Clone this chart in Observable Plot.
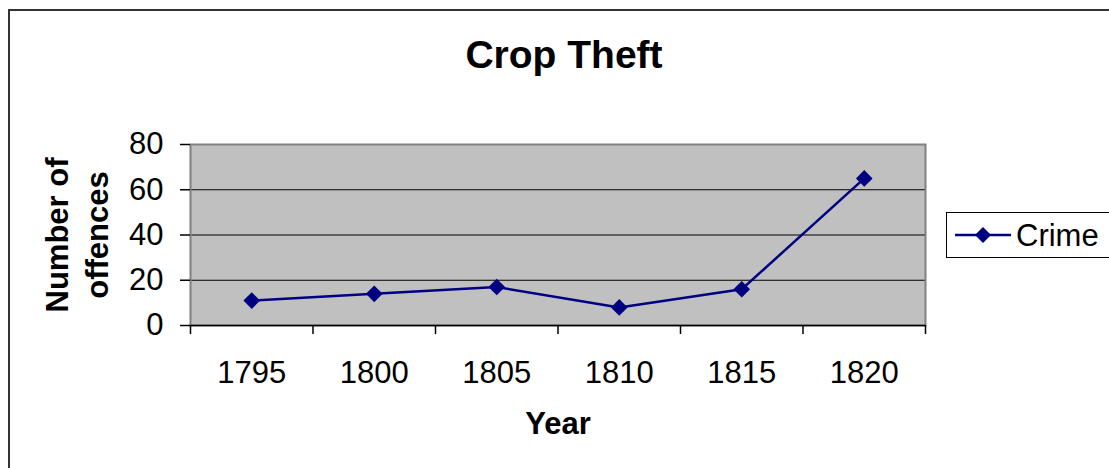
<!DOCTYPE html>
<html>
<head>
<meta charset="utf-8">
<script src="https://cdn.jsdelivr.net/npm/d3@7"></script>
<script src="https://cdn.jsdelivr.net/npm/@observablehq/plot@0.6"></script>
<style>
  html, body { margin: 0; padding: 0; background: #fff; overflow: hidden; }
  #wrap { position: relative; width: 1109px; height: 468px; font-family: Arial, "Liberation Sans", sans-serif; }
  #border { position: absolute; left: 8px; top: 9px; width: 1300px; height: 700px;
            border-left: 2px solid #333; border-top: 2px solid #333; pointer-events: none; }
  #legend { position: absolute; left: 946px; top: 212px; width: 170px; height: 44px;
            border: 1px solid #000; background: #fff; display: flex; align-items: center; }
  #legend span { font-size: 31px; color: #000; margin-left: 5px; line-height: 1; }
  #legend svg { margin-left: 8px; }
</style>
</head>
<body>
<div id="wrap"></div>
<script>
const title = "Crop Theft";
const xTitle = "Year";
const yTitle = "Number of\noffences";
const seriesName = "Crime";
const years = [1795, 1800, 1805, 1810, 1815, 1820];
const crime = [11, 14, 17, 8, 16, 65];
const yTicks = [0, 20, 40, 60, 80];

const lineColor = "#000080";
const data = years.map((year, i) => ({year, value: crime[i]}));
const step = years[1] - years[0];
const boundaries = [...years.map(y => y - step / 2), years[years.length - 1] + step / 2];
const yMax = yTicks[yTicks.length - 1];
const font = "Arial, 'Liberation Sans', sans-serif";

const chart = Plot.plot({
  width: 1109,
  height: 468,
  marginLeft: 190,
  marginRight: 184,
  marginTop: 144,
  marginBottom: 143,
  style: {fontFamily: font, background: "transparent", color: "#000"},
  x: {type: "linear", domain: [boundaries[0], boundaries[boundaries.length - 1]]},
  y: {domain: [0, yMax]},
  marks: [
    Plot.frame({fill: "#c0c0c0", stroke: null}),
    Plot.ruleY(yTicks.filter(v => v > 0 && v < yMax), {stroke: "#000", strokeWidth: 1}),
    Plot.frame({stroke: "#808080", strokeWidth: 2}),
    Plot.ruleY([0], {stroke: "#000", strokeWidth: 1.5}),
    Plot.axisY({ticks: yTicks, tickSize: 10, tickPadding: 17, fontSize: 31, label: null, stroke: "#000", strokeWidth: 1.5, tickFormat: "d"}),
    Plot.axisX(boundaries, {tickSize: 9, tickFormat: () => "", label: null, stroke: "#000", strokeWidth: 1.5}),
    Plot.axisX(years, {tickSize: 0, tickPadding: 35, fontSize: 31, label: null, tickFormat: "d"}),
    Plot.line(data, {x: "year", y: "value", stroke: lineColor, strokeWidth: 2.5}),
    Plot.dot(data, {x: "year", y: "value", symbol: "diamond2", r: 7.5, fill: lineColor, stroke: null}),
    Plot.text([title], {frameAnchor: "top", textAnchor: "middle", lineAnchor: "middle", dx: 6, dy: -89, fontSize: 39, fontWeight: "bold", fill: "#000"}),
    Plot.text([xTitle], {frameAnchor: "bottom", textAnchor: "middle", lineAnchor: "middle", dx: 0, dy: 99, fontSize: 31, fontWeight: "bold", fill: "#000"}),
    Plot.text([yTitle], {frameAnchor: "left", textAnchor: "middle", lineAnchor: "middle", rotate: -90, dx: -115, dy: 0, fontSize: 31, fontWeight: "bold", lineHeight: 1.28, fill: "#000"})
  ]
});

const wrap = document.getElementById("wrap");
wrap.appendChild(chart);

const legend = document.createElement("div");
legend.id = "legend";
legend.innerHTML = `<svg width="56" height="20" viewBox="0 0 56 20">
  <line x1="0" y1="10" x2="56" y2="10" stroke="${lineColor}" stroke-width="2.5"></line>
  <path d="M28,2 L36,10 L28,18 L20,10 Z" fill="${lineColor}"></path>
</svg><span>${seriesName}</span>`;
wrap.appendChild(legend);

const border = document.createElement("div");
border.id = "border";
wrap.appendChild(border);
</script>
</body>
</html>
